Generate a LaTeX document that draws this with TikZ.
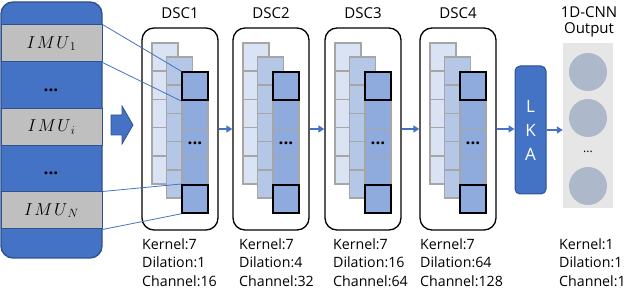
\documentclass[tikz,border=0pt]{standalone}
\usepackage{fontspec}
\setmainfont{Open Sans}
\usetikzlibrary{arrows.meta}
\definecolor{pblue}{HTML}{4472C4}
\definecolor{pborder}{HTML}{2F528F}
\definecolor{band}{HTML}{BFBFBF}
\definecolor{cA}{HTML}{DAE3F3}
\definecolor{cB}{HTML}{B4C7E7}
\definecolor{cC}{HTML}{8FAADC}
\definecolor{cellgray}{HTML}{A6A6A6}
\definecolor{outbg}{HTML}{E7E6E6}
\definecolor{circ}{HTML}{ADB9CA}
\begin{document}
\begin{tikzpicture}[x=1pt,y=-1pt,
  imuband/.style={draw=pborder,fill=band,line width=1,minimum width=101,minimum height=37,inner sep=0},
  dscbox/.style={draw=black,line width=1.3,rounded corners=12,minimum width=76,minimum height=202,inner sep=0},
  cellbox/.style={draw=cellgray,line width=1.5,minimum width=26,minimum height=28.2,inner sep=0},
  keycell/.style={draw=black,line width=1.6,fill=cC,minimum width=26,minimum height=28.2,inner sep=0},
  arr/.style={draw=pblue,line width=1.5,-{Triangle[length=6,width=7]}},
  conn/.style={draw=pblue,line width=0.8},
  lbl/.style={font=\fontsize{15}{16}\selectfont,inner sep=0},
  info/.style={font=\fontsize{14.2}{16}\selectfont,inner sep=0,anchor=base west},
  imutxt/.style={font=\fontsize{18}{18}\selectfont},
  bigdots/.style={font=\fontsize{17}{17}\selectfont\bfseries,inner sep=0}
]
\useasboundingbox (0,0) rectangle (626,288);
% left panel
\node[draw=pborder,fill=pblue,line width=1.4,rounded corners=12,minimum width=101,minimum height=256,inner sep=0] (panel) at (51.5,130) {};
\node[imuband,imutxt] (imu1) at (51.5,43.5) {$I\mkern1.5mu M\mkern1.5mu U_{\,1}$};
\node[imuband,imutxt] (imui) at (51.5,127) {$I\mkern1.5mu M\mkern1.5mu U_{\,i}$};
\node[imuband,imutxt] (imuN) at (51.5,210.5) {$I\mkern1.5mu M\mkern1.5mu U_{\,N}$};
\node[bigdots] (ld1) at (51,90) {...};
\node[bigdots] (ld2) at (51,173) {...};
% block arrow
\draw[fill=pblue,draw=pborder,line width=0.8] (111,115) -- (122,115) -- (122,106) -- (133,125) -- (122,144) -- (122,135) -- (111,135) -- cycle;
% DSC blocks
\foreach \L [count=\i] in {142,233,325,420}{
  \node[dscbox] (box\i) at ({\L+38},129) {};
  \node[lbl] (t\i) at ({\L+38},13) {DSC\i};
  \foreach \j in {1,...,5}{
    \node[cellbox,fill=cA] (b\i-\j) at ({\L+23},{43+28.2*\j-14.1}) {};
  }
  \foreach \j in {1,...,5}{
    \node[cellbox,fill=cB] (m\i-\j) at ({\L+37.5},{57+28.2*\j-14.1}) {};
  }
  \foreach \j in {2,3,4}{
    \node[cellbox,fill=cC] (f\i-\j) at ({\L+53},{72+28.2*\j-14.1}) {};
  }
  \node[keycell] (f\i-1) at ({\L+53},{72+14.1}) {};
  \node[keycell] (f\i-5) at ({\L+53},{72+28.2*5-14.1}) {};
  \node[bigdots] (d\i) at ({\L+53},{72+28.2*2.5+1}) {...};
}
\node[info] (k1) at (142,250) {Kernel:7};
\node[info] (dl1) at (142,268) {Dilation:1};
\node[info] (ch1) at (142,286) {Channel:16};
\node[info] (k2) at (239,250) {Kernel:7};
\node[info] (dl2) at (239,268) {Dilation:4};
\node[info] (ch2) at (239,286) {Channel:32};
\node[info] (k3) at (333,250) {Kernel:7};
\node[info] (dl3) at (333,268) {Dilation:16};
\node[info] (ch3) at (333,286) {Channel:64};
\node[info] (k4) at (420,250) {Kernel:7};
\node[info] (dl4) at (420,268) {Dilation:64};
\node[info] (ch4) at (420,286) {Channel:128};
% connectors from IMU bands
\draw[conn] (imu1.north east) -- (f1-1.north west);
\draw[conn] (imu1.south east) -- (f1-1.south west);
\draw[conn] (imuN.north east) -- (f1-5.north west);
\draw[conn] (imuN.south east) -- (f1-5.south west);
% LKA
\node[draw=pborder,fill=pblue,line width=1,rounded corners=5,minimum width=31,minimum height=128,inner sep=0,text=white,align=center,font=\fontsize{17}{24}\selectfont] (lka) at (530.5,130) {L\\K\\A};
% output
\node[fill=outbg,minimum width=50,minimum height=165,inner sep=0] (outp) at (588,125.5) {};
\node[fill=circ,circle,minimum size=38,inner sep=0] (o1) at (588,72) {};
\node[fill=circ,circle,minimum size=38,inner sep=0] (o2) at (588,118) {};
\node[fill=circ,circle,minimum size=38,inner sep=0] (o3) at (588,186) {};
\node[font=\fontsize{12}{12}\selectfont,inner sep=0] (od) at (588,152) {...};
\node[lbl] (ot1) at (589,12) {1D-CNN};
\node[lbl] (ot2) at (589,30) {Output};
\node[info] (ko) at (559,250) {Kernel:1};
\node[info] (dlo) at (559,268) {Dilation:1};
\node[info] (cho) at (559,286) {Channel:1};
% arrows
\draw[arr] (box1.east) -- (box2.west);
\draw[arr] (box2.east) -- (box3.west);
\draw[arr] (box3.east) -- (box4.west);
\draw[arr] (box4.east) -- (box4.east -| lka.west);
\draw[arr] (lka.east) -- (lka.east -| outp.west);
\end{tikzpicture}
\end{document}
